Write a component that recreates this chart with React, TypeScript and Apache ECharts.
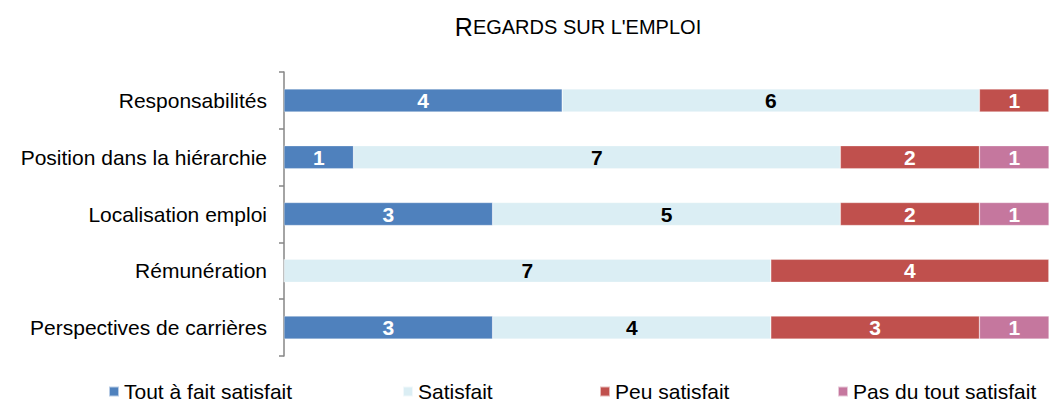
import React, { useEffect, useRef } from "react";
import * as echarts from "echarts";

const categories = [
  "Responsabilités",
  "Position dans la hiérarchie",
  "Localisation emploi",
  "Rémunération",
  "Perspectives de carrières",
];
const seriesNames = ["Tout à fait satisfait", "Satisfait", "Peu satisfait", "Pas du tout satisfait"];
const toutAFait = [4, 1, 3, 0, 3];
const satisfait = [6, 7, 5, 7, 4];
const peuSatisfait = [1, 2, 2, 4, 3];
const pasDuTout = [0, 1, 1, 0, 1];
const seriesValues = [toutAFait, satisfait, peuSatisfait, pasDuTout];
const colors = ["#4F81BD", "#DBEEF4", "#C0504D", "#C5779E"];
const labelColors = ["#FFFFFF", "#000000", "#FFFFFF", "#FFFFFF"];
const legendLefts = [108, 402, 599, 837];

const FONT = "Liberation Sans, Arial, sans-serif";

export default function App() {
  const ref = useRef<HTMLDivElement>(null);
  useEffect(() => {
    if (!ref.current) return;
    const chart = echarts.init(ref.current, undefined, { renderer: "svg" });
    chart.setOption({
      animation: false,
      textStyle: { fontFamily: FONT },
      title: {
        text: "{a|R}{b|EGARDS SUR L'EMPLOI}",
        left: 573,
        top: 9,
        textAlign: "center",
        textStyle: {
          fontWeight: "normal",
          rich: {
            a: { fontSize: 25, color: "#000", fontFamily: FONT, fontWeight: "normal" },
            b: { fontSize: 20, color: "#000", fontFamily: FONT, fontWeight: "normal" },
          },
        },
      },
      legend: seriesNames.map((n, i) => ({
        data: [n],
        left: legendLefts[i],
        top: 381,
        padding: 0,
        itemWidth: 10,
        itemHeight: 10,
        itemGap: 0,
        icon: "rect",
        textStyle: { fontSize: 21, lineHeight: 20, color: "#000", fontFamily: FONT },
      })),
      grid: { left: 284, right: 1, top: 72, bottom: 46, containLabel: false },
      xAxis: {
        type: "value",
        min: 0,
        max: 11,
        show: false,
        splitLine: { show: false },
      },
      yAxis: {
        type: "category",
        data: categories,
        inverse: true,
        axisLine: { show: true, lineStyle: { color: "#868686", width: 1.5 } },
        axisTick: { show: true, length: 5, lineStyle: { color: "#868686", width: 1.5 } },
        axisLabel: { fontSize: 21, color: "#000", margin: 17, fontFamily: FONT },
      },
      series: seriesValues.map((vals, i) => ({
        name: seriesNames[i],
        type: "bar",
        stack: "total",
        barWidth: 23,
        data: vals,
        itemStyle: { color: colors[i], borderColor: "rgba(255,255,255,0.6)", borderWidth: 0.5 },
        label: {
          show: true,
          position: "inside",
          color: labelColors[i],
          fontSize: 21,
          fontWeight: "bold",
          fontFamily: FONT,
          formatter: (p: any) => (p.value ? String(p.value) : ""),
        },
      })),
    });
    return () => chart.dispose();
  }, []);
  return (
    <div
      ref={ref}
      style={{ position: "fixed", left: 0, top: 0, width: 1050, height: 402, background: "#fff" }}
    />
  );
}
